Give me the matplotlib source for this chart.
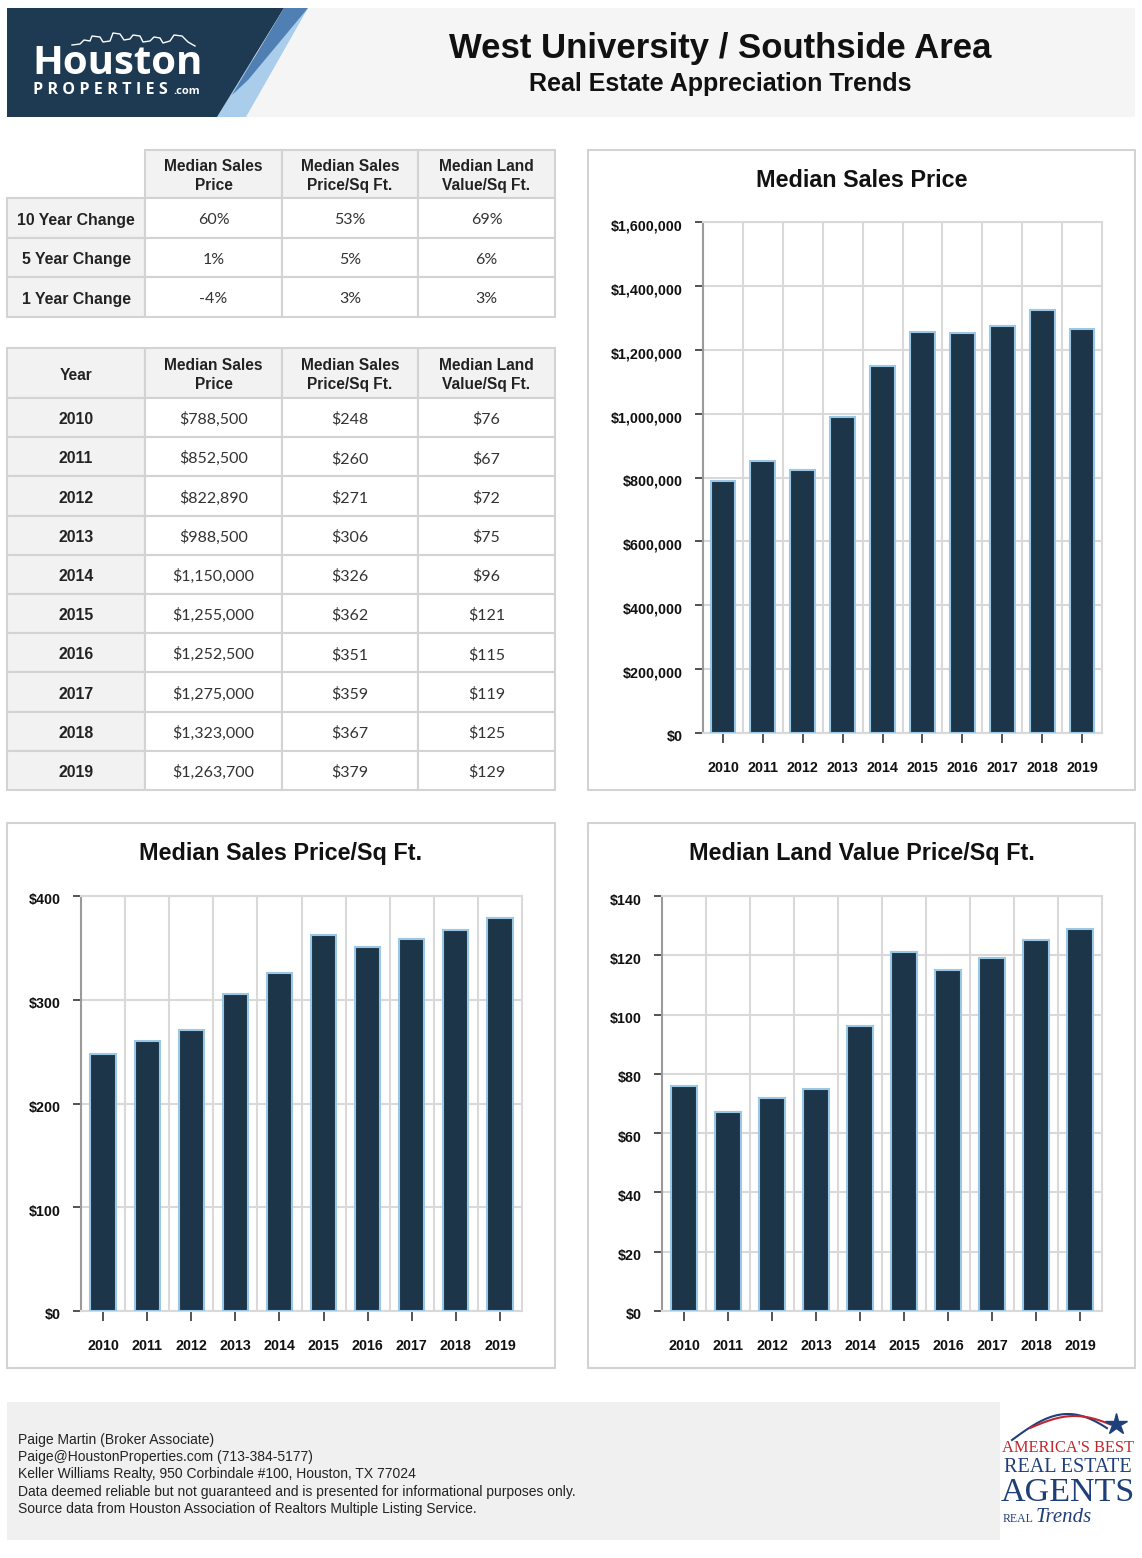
import numpy as np
import matplotlib
matplotlib.use("Agg")
import matplotlib.pyplot as plt
from matplotlib.patches import Rectangle, Polygon
from matplotlib.ticker import FuncFormatter
from matplotlib.transforms import ScaledTranslation

# --- data ---
years = [2010, 2011, 2012, 2013, 2014, 2015, 2016, 2017, 2018, 2019]
median_price = [788500, 852500, 822890, 988500, 1150000, 1255000, 1252500, 1275000, 1323000, 1263700]
median_psf = [248, 260, 271, 306, 326, 362, 351, 359, 367, 379]
median_land = [76, 67, 72, 75, 96, 121, 115, 119, 125, 129]

change_labels = ["10 Year Change", "5 Year Change", "1 Year Change"]
change_price = ["60%", "1%", "-4%"]
change_psf = ["53%", "5%", "3%"]
change_land = ["69%", "6%", "3%"]

col_headers = ["Median Sales\nPrice", "Median Sales\nPrice/Sq Ft.", "Median Land\nValue/Sq Ft."]

title = "West University / Southside Area"
subtitle = "Real Estate Appreciation Trends"
footer_lines = [
    "Paige Martin (Broker Associate)",
    "Paige@HoustonProperties.com (713-384-5177)",
    "Keller Williams Realty, 950 Corbindale #100, Houston, TX 77024",
    "Data deemed reliable but not guaranteed and is presented for informational purposes only.",
    "Source data from Houston Association of Realtors Multiple Listing Service.",
]

# --- style ---
NAVY = "#1c3549"
BAR_EDGE = "#9cc7e4"
GRID = "#d9d9d9"
CELL_GRAY = "#f2f2f2"
BORDER = "#d3d3d3"
SANS = "Liberation Sans"

W, H = 1142, 1558
fig = plt.figure(figsize=(W / 100, H / 100), dpi=100)
fig.patch.set_facecolor("white")

bg = fig.add_axes([0, 0, 1, 1])
bg.set_xlim(0, W); bg.set_ylim(H, 0); bg.axis("off")

def box(x0, y0, x1, y1, fc, ec="none", lw=0, z=1):
    bg.add_patch(Rectangle((x0, y0), x1 - x0, y1 - y0, fc=fc, ec=ec, lw=lw, zorder=z))

# --- header ---
box(7, 8, 1135, 117, "#f5f5f5")
bg.add_patch(Polygon([(7, 8), (284, 8), (217, 117), (7, 117)], closed=True, fc="#1d3a52", ec="none", zorder=2))
bg.add_patch(Polygon([(284, 8), (308, 8), (248, 80), (232, 95)], closed=True, fc="#4f7fb3", ec="none", zorder=2))
bg.add_patch(Polygon([(308, 8), (246, 117), (217, 117), (250, 62)], closed=True, fc="#a9cdea", ec="none", zorder=1.5))
# skyline doodle
sx = [72, 80, 84, 90, 92, 100, 103, 110, 113, 120, 124, 130, 133, 140, 143, 150, 154, 160, 163, 170, 174, 182, 188, 195]
sy = [45, 44, 40, 41, 36, 37, 42, 41, 33, 34, 40, 39, 35, 36, 42, 41, 37, 38, 43, 41, 35, 36, 42, 46]
bg.plot(sx, sy, color="white", lw=1, zorder=3)
bg.text(32, 63, "Houston", color="white", fontsize=29, fontweight="bold",
        family="Open Sans", va="center", ha="left", zorder=3)
bg.text(33, 90, "P R O P E R T I E S", color="white", fontsize=11.6, fontweight="bold",
        family="Open Sans", va="center", ha="left", zorder=3)
bg.text(173, 91, ".com", color="white", fontsize=8, fontweight="bold",
        family="Open Sans", va="center", ha="left", zorder=3)

bg.text(720, 48, title, fontsize=25, fontweight="bold", family=SANS, ha="center", va="center", color="#111")
bg.text(720, 84, subtitle, fontsize=18, fontweight="bold", family=SANS, ha="center", va="center", color="#111")

# --- tables ---
col_x = [7, 145, 282, 418, 555]

def draw_table(y_edges, header0, labels, cols):
    # header row
    for c in range(4):
        x0, x1 = col_x[c], col_x[c + 1]
        y0, y1 = y_edges[0], y_edges[1]
        if c == 0 and header0 == "":
            continue
        box(x0, y0, x1, y1, CELL_GRAY, BORDER, 1.5)
        txt = header0 if c == 0 else col_headers[c - 1]
        bg.text((x0 + x1) / 2, (y0 + y1) / 2 + 2, txt, fontsize=11.2, fontweight="bold", family=SANS,
                ha="center", va="center", color="#222", linespacing=1.3, zorder=3)
    for r, lab in enumerate(labels):
        y0, y1 = y_edges[r + 1], y_edges[r + 2]
        yc = (y0 + y1) / 2 + 2
        box(col_x[0], y0, col_x[1], y1, CELL_GRAY, BORDER, 1.5)
        bg.text((col_x[0] + col_x[1]) / 2, yc, lab, fontsize=11.4, fontweight="bold",
                family=SANS, ha="center", va="center", color="#222", zorder=3)
        for c in range(3):
            x0, x1 = col_x[c + 1], col_x[c + 2]
            box(x0, y0, x1, y1, "white", BORDER, 1.5)
            bg.text((x0 + x1) / 2, yc, cols[c][r], fontsize=11.5, family="Lato",
                    ha="center", va="center", color="#333", zorder=3)

draw_table([150, 198, 238, 277, 317], "", change_labels, [change_price, change_psf, change_land])

yr_edges = [348, 398] + list(np.linspace(398, 790, len(years) + 1)[1:])
draw_table(yr_edges, "Year", [str(y) for y in years],
           [[f"${v:,}" for v in median_price], [f"${v}" for v in median_psf], [f"${v}" for v in median_land]])

# --- charts ---
def bar_chart(panel, plot, values, ymax, step, chart_title, width):
    px0, py0, px1, py1 = panel
    box(px0, py0, px1, py1, "white", BORDER, 1.5)
    bg.text((px0 + px1) / 2, py0 + 30, chart_title, fontsize=16.8, fontweight="bold", family=SANS,
            ha="center", va="center", color="#111", zorder=3)
    x0, y0, x1, y1 = plot
    ax = fig.add_axes([x0 / W, 1 - y1 / H, (x1 - x0) / W, (y1 - y0) / H])
    x = np.arange(len(years))
    ax.bar(x, values, width=width, color=NAVY, edgecolor=BAR_EDGE, linewidth=1.5, zorder=3)
    ax.set_xlim(-0.5, len(years) - 0.5)
    ax.set_ylim(0, ymax)
    ax.set_yticks(np.arange(0, ymax + step / 2, step))
    ax.yaxis.set_major_formatter(FuncFormatter(lambda v, p: f"${v:,.0f}"))
    ax.set_xticks(x)
    ax.set_xticklabels([str(y) for y in years])
    ax.set_xticks(x[:-1] + 0.5, minor=True)
    ax.grid(which="minor", axis="x", color=GRID, lw=1.5, zorder=0)
    ax.grid(which="major", axis="y", color=GRID, lw=1.5, zorder=0)
    ax.tick_params(axis="x", which="minor", length=0)
    ax.tick_params(axis="x", which="major", length=7, width=1.3, color="#444", pad=13)
    ax.tick_params(axis="y", length=5.8, width=1.3, color="#444", pad=9)
    for lab in ax.get_xticklabels() + ax.get_yticklabels():
        lab.set_fontfamily(SANS); lab.set_fontweight("bold"); lab.set_fontsize(10.3); lab.set_color("#111")
    shift = ScaledTranslation(0, -3 / 100, fig.dpi_scale_trans)
    for lab in ax.get_yticklabels():
        lab.set_transform(lab.get_transform() + shift)
    ax.spines["left"].set_color("#9a9a9a"); ax.spines["left"].set_linewidth(1.5)
    for s in ["bottom", "right", "top"]:
        ax.spines[s].set_color(GRID); ax.spines[s].set_linewidth(1.5)
    ax.set_axisbelow(True)
    return ax

bar_chart((588, 150, 1135, 790), (703, 222, 1102, 733), median_price, 1600000, 200000, "Median Sales Price", 0.62)
bar_chart((7, 823, 555, 1368), (81, 896, 522, 1311), median_psf, 400, 100, "Median Sales Price/Sq Ft.", 0.57)
bar_chart((588, 823, 1135, 1368), (662, 896, 1102, 1311), median_land, 140, 20, "Median Land Value Price/Sq Ft.", 0.57)

# --- footer ---
box(7, 1402, 1000, 1540, "#f0f0f0")
for i, line in enumerate(footer_lines):
    bg.text(18, 1440 + i * 17.2, line, fontsize=10, family=SANS, ha="left", va="center", color="#222")

# award logo
t = np.linspace(0, 1, 50)
bg.plot(1012 + 95 * t, 1440 - 26 * np.sin(np.pi * t * 0.85), color="#1f3f7a", lw=1.5)
bg.plot(1030 + 80 * t, 1428 - 12 * np.sin(np.pi * t * 0.9), color="#c0272d", lw=1.5)
bg.plot([1116], [1424], marker="*", markersize=16, color="#1f3f7a")
bg.text(1068, 1448, "AMERICA'S BEST", fontsize=11.8, family="Liberation Serif", color="#c0272d",
        ha="center", va="center")
bg.text(1068, 1468, "REAL ESTATE", fontsize=14.5, family="Liberation Serif", color="#1f3f7a",
        ha="center", va="center")
bg.text(1068, 1493, "AGENTS", fontsize=24.5, family="Liberation Serif", color="#1f3f7a",
        ha="center", va="center")
bg.text(1003, 1519, "REAL", fontsize=8.5, family="Liberation Serif", color="#1f3f7a", ha="left", va="center")
bg.text(1036, 1517, "Trends", fontsize=15, family="Liberation Serif", style="italic", color="#1f3f7a",
        ha="left", va="center")

fig.savefig("out.png", dpi=100, facecolor="white")
